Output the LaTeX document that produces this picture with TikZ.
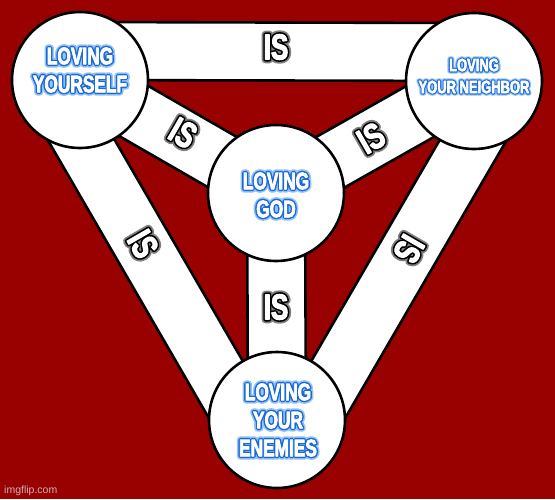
\documentclass[tikz,border=0pt]{standalone}
\usepackage{fontspec}
\usetikzlibrary{calc}
% condensed heavy face, and stroked copies of it for the glows
\newfontfamily\impact[FakeStretch=0.72,FakeBold=3]{Liberation Sans Bold}
\newfontfamily\glowin[FakeStretch=0.72,FakeBold=15]{Liberation Sans Bold}
\newfontfamily\glowout[FakeStretch=0.72,FakeBold=28]{Liberation Sans Bold}
\newfontfamily\shadin[FakeStretch=0.72,FakeBold=12]{Liberation Sans Bold}
\newfontfamily\shadout[FakeStretch=0.72,FakeBold=22]{Liberation Sans Bold}
\newfontfamily\wmfont{Liberation Sans}
\definecolor{maroon}{RGB}{153,0,0}
\definecolor{glowblue}{RGB}{25,105,215}
\definecolor{glowpale}{RGB}{150,195,248}
\definecolor{wmgray}{RGB}{205,180,180}
\newcommand{\bluetxt}[1]{\rlap{\glowout\color{glowpale}#1}\rlap{\glowin\color{glowblue}#1}{\impact#1}}
\newcommand{\istxt}[1]{\rlap{\shadout\color{black!50}#1}\rlap{\shadin\color{black}#1}{\impact#1}}
\pgfdeclarelayer{back}
\pgfsetlayers{back,main}
\begin{document}
\begin{tikzpicture}[x=1pt,y=-1pt,
  disc/.style={circle,draw,fill=white,line width=2.6pt,minimum size=136pt,inner sep=0pt},
  bar/.style={draw,fill=white,line width=2.6pt,line join=miter},
  circtxt/.style={text=white,font=\fontsize{24}{28}\selectfont,align=center,line join=round},
  istag/.style={text=white,font=\fontsize{36}{36}\selectfont,inner sep=0pt,line join=round}]
\useasboundingbox (0,0) rectangle (555,499);
\begin{pgfonlayer}{back}
\fill[maroon] (0,0) rectangle (555,499);
\end{pgfonlayer}
% circles
\node[disc] (Y) at (80,80) {};
\node[disc] (N) at (474,81) {};
\node[disc] (G) at (276,193) {};
\node[disc] (E) at (277,420) {};
% bars, kept behind the circles
\begin{pgfonlayer}{back}
\foreach \a/\b in {Y/N,N/E,E/Y}
  \draw[bar] (\a.center) -- (\b.center) -- ($(\b.center)!58pt!-90:(\a.center)$)
    -- ($(\a.center)!58pt!90:(\b.center)$) -- cycle;
\foreach \a in {Y,N,E}
  \draw[bar] ($(G.center)!29pt!90:(\a.center)$) -- ($(\a.center)!29pt!-90:(G.center)$)
    -- ($(\a.center)!29pt!90:(G.center)$) -- ($(G.center)!29pt!-90:(\a.center)$) -- cycle;
\end{pgfonlayer}
% circle texts
\node[circtxt] (tY) at (80,70) {\bluetxt{LOVING}\\\bluetxt{YOURSELF}};
\node[circtxt,font=\fontsize{18}{22}\selectfont] (tN) at (474,76) {\bluetxt{LOVING}\\\bluetxt{YOUR NEIGHBOR}};
\node[circtxt] (tG) at (276,195) {\bluetxt{LOVING}\\\bluetxt{GOD}};
\node[circtxt] (tE) at (278,420) {\bluetxt{LOVING}\\\bluetxt{YOUR}\\\bluetxt{ENEMIES}};
% IS on the bars
\foreach \p/\r [count=\k] in {{(276,47)}/0,{(183,133)}/-30,{(371,138)}/30,
  {(143,244)}/-60,{(409,249)}/-120,{(276,307)}/0}
  \node[istag,rotate=\r] (is\k) at \p {\istxt{IS}};
\node[anchor=south west,text=wmgray,font=\wmfont\fontsize{10.5}{10.5}\selectfont,inner sep=0pt] (wm) at (4,496) {imgflip.com};
\end{tikzpicture}
\end{document}
